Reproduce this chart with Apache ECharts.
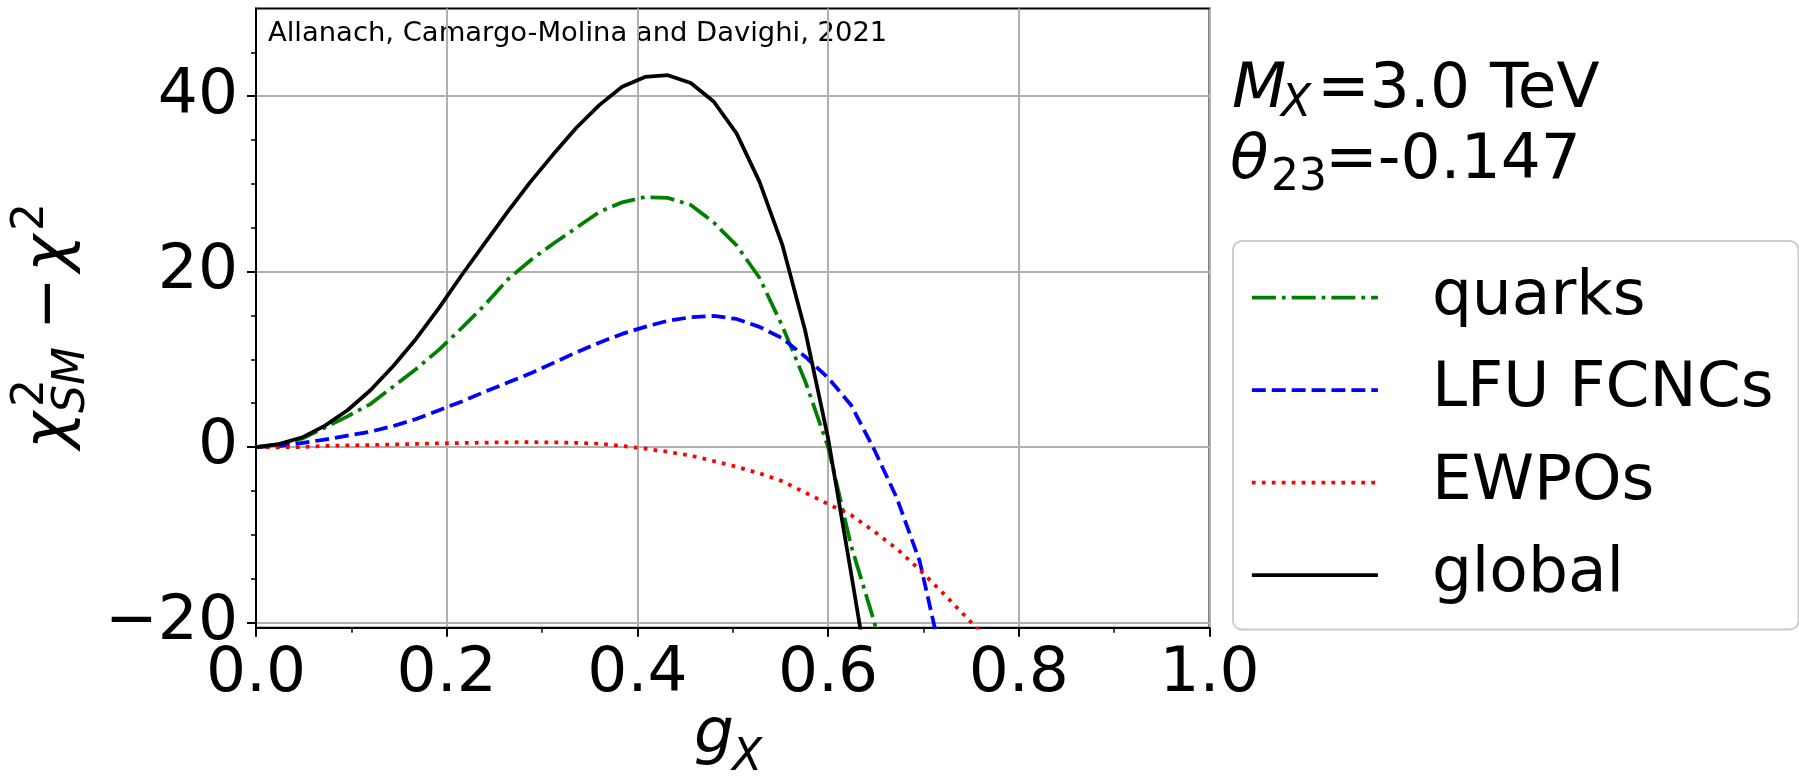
<!DOCTYPE html>
<html>
<head>
<meta charset="utf-8">
<script src="https://cdn.jsdelivr.net/npm/echarts@6/dist/echarts.min.js"></script>
<style>
  html, body { margin: 0; padding: 0; background: #ffffff; }
  #chart { width: 1799px; height: 778px; }
</style>
</head>
<body>
<div id="chart"></div>
<script>
// Coupling g_X on a uniform scan grid
const gX = [0.000, 0.024, 0.048, 0.072, 0.096, 0.120, 0.144, 0.168, 0.192, 0.216,
            0.240, 0.264, 0.288, 0.312, 0.336, 0.360, 0.384, 0.408, 0.432, 0.456,
            0.480, 0.504, 0.528, 0.552, 0.576, 0.600, 0.624, 0.648, 0.672, 0.696,
            0.720, 0.744, 0.768];

// chi^2_SM - chi^2 for each observable set (one value per grid point)
const quarks = [0, 0.3, 0.95, 2.2, 3.5, 4.9, 6.9, 8.9, 11.1, 13.6,
                16.2, 19.1, 21.3, 23.2, 25.0, 26.8, 27.9, 28.5, 28.4, 27.6,
                25.6, 23.0, 19.3, 13.8, 7.5, 0.0, -11.2, -19.8, -30.0];
const lfuFcncs = [0, 0.1, 0.45, 0.85, 1.3, 1.75, 2.4, 3.2, 4.2, 5.2,
                  6.3, 7.35, 8.4, 9.6, 10.8, 11.9, 12.9, 13.7, 14.4, 14.8,
                  14.95, 14.6, 13.7, 12.4, 10.3, 7.9, 4.8, -0.2, -5.8, -13.0,
                  -24.5];
const ewpos = [0, -0.03, 0.0, 0.12, 0.18, 0.23, 0.3, 0.36, 0.42, 0.46,
               0.5, 0.54, 0.55, 0.53, 0.48, 0.38, 0.12, -0.18, -0.55, -0.98,
               -1.6, -2.25, -3.0, -3.9, -5.2, -6.5, -7.75, -9.6, -11.6, -14.0,
               -16.6, -19.3, -22.0];
const globalFit = [0, 0.33, 1.08, 2.41, 4.19, 6.47, 9.24, 12.35, 15.87, 19.64,
                   23.25, 26.85, 30.26, 33.4, 36.4, 38.98, 41.07, 42.2, 42.4, 41.5,
                   39.4, 35.76, 30.26, 23.06, 13.25, 1.0, -14.3, -30.0];

const legendNames = ['quarks', 'LFU FCNCs', 'EWPOs', 'global'];
const yTicks = [-20, 0, 20, 40];
const xTicks = [0.0, 0.2, 0.4, 0.6, 0.8, 1.0];

const FONT = 'DejaVu Sans';
const BIG = 63;
const SMALL = 44;
const LW = 3.75;

// place text by its alphabetic baseline (canvas "middle" sits ~0.346 em above it)
function mid(baseline, size) { return baseline - 0.346 * size; }
function txt(x, baseline, text, size, italic) {
  return {
    type: 'text', x: x, y: mid(baseline, size), silent: true,
    style: {
      text: text, fontSize: size, fontFamily: FONT,
      fontStyle: italic ? 'italic' : 'normal',
      fill: '#000', align: 'left', verticalAlign: 'middle'
    }
  };
}
function pairs(vals) { return vals.map((v, i) => [gX[i], v]); }
function lineSeries(name, vals, color, dash) {
  return {
    name: name, type: 'line', data: pairs(vals),
    symbol: 'none', showSymbol: false, smooth: false, clip: true,
    lineStyle: { color: color, width: LW, type: dash, cap: 'butt', join: 'round' },
    itemStyle: { color: color },
    emphasis: { disabled: true }
  };
}

const chart = echarts.init(document.getElementById('chart'), null, { renderer: 'canvas' });

chart.setOption({
  animation: false,
  backgroundColor: '#ffffff',
  grid: {
    left: 256, top: 8.5, width: 953.5, height: 619.2,
    show: true, borderColor: '#000', borderWidth: 2, backgroundColor: 'transparent',
    containLabel: false, outerBoundsMode: 'none'
  },
  xAxis: {
    type: 'value', min: 0, max: 1, interval: 0.2,
    axisLine: { show: true, onZero: false, lineStyle: { color: '#000', width: 2 } },
    axisTick: { show: true, inside: false, length: 9, lineStyle: { color: '#000', width: 2 } },
    minorTick: { show: true, splitNumber: 2, length: 5, lineStyle: { color: '#000', width: 1.5 } },
    splitLine: { show: true, lineStyle: { color: '#b0b0b0', width: 2 } },
    minorSplitLine: { show: false },
    axisLabel: {
      margin: 15, fontSize: BIG, fontFamily: FONT, color: '#000',
      formatter: v => Number(v).toFixed(1)
    }
  },
  yAxis: {
    type: 'value', min: -20.6, max: 50, splitNumber: 3,
    axisLine: { show: true, onZero: false, lineStyle: { color: '#000', width: 2 } },
    axisTick: { show: true, inside: false, length: 9, customValues: yTicks,
                lineStyle: { color: '#000', width: 2 } },
    minorTick: { show: true, splitNumber: 4, length: 5, lineStyle: { color: '#000', width: 1.5 } },
    splitLine: { show: true, lineStyle: { color: '#b0b0b0', width: 2 } },
    minorSplitLine: { show: false },
    axisLabel: {
      margin: 18, fontSize: BIG, fontFamily: FONT, color: '#000',
      customValues: yTicks,
      formatter: v => (v < 0 ? '\u2212' + Math.abs(v) : String(v))
    }
  },
  legend: {
    data: legendNames,
    orient: 'vertical', left: 1233, top: 241,
    padding: [25, 25, 23, 17],
    itemWidth: 126, itemHeight: 4, itemGap: 29.5,
    selectedMode: false,
    backgroundColor: 'rgba(255,255,255,0.8)',
    borderColor: '#cccccc', borderWidth: 2, borderRadius: 9,
    lineStyle: { width: LW },
    itemStyle: { opacity: 0, borderWidth: 0 },
    textStyle: {
      fontSize: BIG, fontFamily: FONT, color: '#000',
      lineHeight: 60, padding: [0, 0, 0, 49]
    }
  },
  series: [
    lineSeries('quarks', quarks, '#008000', [24, 6, 3.75, 6]),
    lineSeries('LFU FCNCs', lfuFcncs, '#0000ff', [13.9, 6]),
    lineSeries('EWPOs', ewpos, '#ff0000', [3.75, 6.2]),
    lineSeries('global', globalFit, '#000000', 'solid')
  ],
  graphic: [
    // author credit inside the axes
    txt(268, 43.3, 'Allanach, Camargo-Molina and Davighi, 2021', 27.4, false),
    // benchmark parameters
    txt(1232, 112.3, 'M', BIG, true),
    txt(1281, 120, 'X', SMALL, true),
    txt(1317, 112.3, '=3.0 TeV', BIG, false),
    txt(1230, 183.3, '\u03B8', BIG, true),
    txt(1271, 193.3, '23', SMALL, false),
    txt(1325, 183.3, '=-0.147', BIG, false),
    // x-axis title g_X
    txt(694, 757, 'g', BIG, true),
    txt(732, 774, 'X', SMALL, true),
    // y-axis title chi^2_SM - chi^2, rotated to read upwards
    {
      type: 'group', x: 72, y: 449, rotation: Math.PI / 2, silent: true,
      children: [
        txt(0, 0, '\u03C7', BIG, true),
        txt(42, -25, '2', SMALL, false),
        txt(36, 16, 'SM', SMALL, true),
        txt(119, 0, '\u2212', BIG, false),
        txt(177, 0, '\u03C7', BIG, true),
        txt(218, -25, '2', SMALL, false)
      ]
    }
  ]
});
</script>
</body>
</html>
